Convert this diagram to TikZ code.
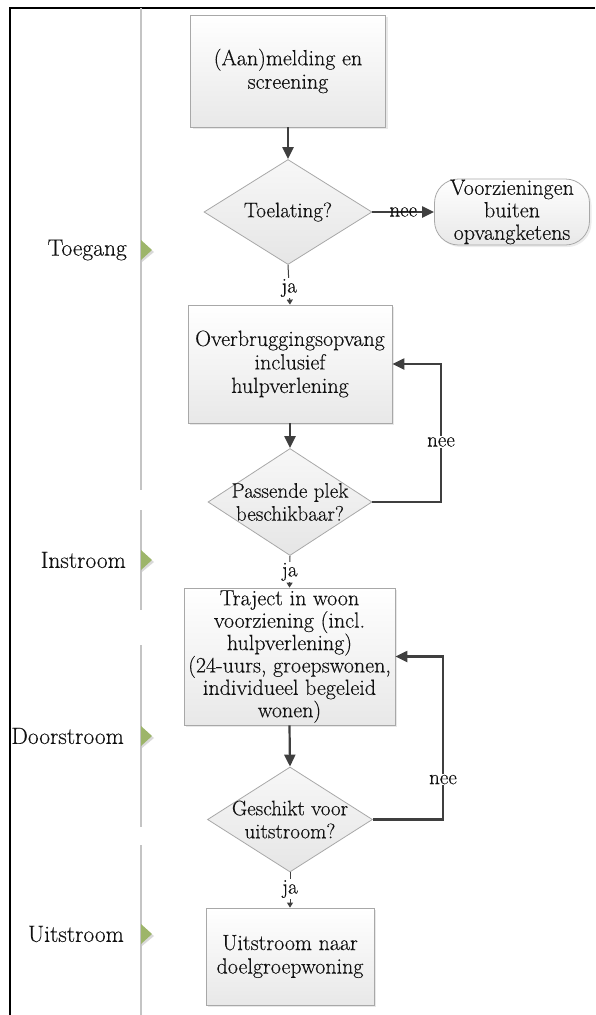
\documentclass[tikz,border=0pt]{standalone}
\usepackage{fontspec}
\setmainfont{Latin Modern Roman}[FakeBold=0.25]
\usetikzlibrary{shapes.geometric,arrows.meta,shadows}
\definecolor{txt}{HTML}{111111}
\definecolor{edgec}{HTML}{A8A8A8}
\definecolor{flowc}{HTML}{3F3F3F}
\definecolor{lanegreen}{HTML}{9DB56A}
\definecolor{sepc}{HTML}{C4C4C4}
\begin{document}
\begin{tikzpicture}[x=1pt,y=-1pt,
  base/.style={font=\fontsize{22}{23.5}\selectfont, text=txt, align=center},
  procbox/.style={base, rectangle, draw=edgec, line width=0.8pt, top color=white, bottom color=black!9,
    drop shadow={opacity=0.18, shadow xshift=2pt, shadow yshift=-2pt}, inner sep=0pt},
  decision/.style={diamond, draw=edgec, line width=0.8pt, top color=black!3, bottom color=black!10, inner sep=0pt},
  termbox/.style={base, rectangle, rounded corners=24pt, draw=edgec, line width=0.8pt, top color=white, bottom color=black!9,
    drop shadow={opacity=0.15, shadow xshift=2pt, shadow yshift=-2pt}, inner sep=0pt},
  dtext/.style={font=\fontsize{21}{23}\selectfont, text=txt, align=center, inner sep=0pt},
  lanelbl/.style={font=\fontsize{23.5}{26}\selectfont, text=txt, anchor=east, inner sep=0pt},
  flow/.style={draw=flowc, line width=2.2pt, -{Triangle[length=12pt,width=11pt]}},
  yesflow/.style={draw=flowc, line width=1pt, -{Triangle[length=5pt,width=6pt]}},
  lbl/.style={font=\fontsize{21}{23}\selectfont, text=txt, inner sep=1pt},
  lanetri/.style={fill=lanegreen}
]
\useasboundingbox (0,0) rectangle (595,1015);

% frame
\draw[black, line width=2pt] (9.5,1015) -- (9.5,7.5) -- (595,7.5);

% lane separators
\draw[sepc, line width=1.5pt] (141,8) -- (141,490);
\draw[sepc, line width=1.5pt] (141,510) -- (141,610);
\draw[sepc, line width=1.5pt] (141,645) -- (141,827);
\draw[sepc, line width=1.5pt] (141,845) -- (141,1015);

% lane labels and markers
\node[lanelbl] (lToegang) at (127,250) {Toegang};
\node[lanelbl] (lInstroom) at (126,560) {Instroom};
\node[lanelbl] (lDoorstroom) at (124,736) {Doorstroom};
\node[lanelbl] (lUitstroom) at (124,934) {Uitstroom};
\foreach \yy in {250,560,736,934}{
  \fill[black!15] (142,\yy-8) -- (154,\yy+2) -- (142,\yy+12) -- cycle;
  \fill[lanetri] (141,\yy-10) -- (152,\yy) -- (141,\yy+10) -- cycle;
}

% process nodes
\node[procbox, minimum width=195pt, minimum height=112pt] (b1) at (288,71) {(Aan)melding en\\screening};
\node[decision, minimum width=168pt, minimum height=105pt] (d1) at (288,212) {};
\node[dtext] (d1t) at (d1.center) {Toelating?};
\node[termbox, minimum width=155pt, minimum height=66pt, font=\fontsize{22}{22.5}\selectfont] (t1) at (512,212) {Voorzieningen\\buiten\\opvangketens};
\node[procbox, minimum width=204pt, minimum height=118pt] (b2) at (290,364) {Overbruggingsopvang\\inclusief\\hulpverlening};
\node[decision, minimum width=164pt, minimum height=107pt] (d2) at (290,502) {};
\node[dtext] (d2t) at (d2.center) {Passende plek\\beschikbaar?};
\node[procbox, minimum width=211pt, minimum height=137pt, font=\fontsize{22}{22.4}\selectfont] (b3) at (289.5,656.5) {Traject in woon\\voorziening (incl.\\hulpverlening)\\(24-uurs, groepswonen,\\individueel begeleid\\wonen)};
\node[decision, minimum width=165pt, minimum height=105pt] (d3) at (290,819.5) {};
\node[dtext] (d3t) at (d3.center) {Geschikt voor\\uitstroom?};
\node[procbox, minimum width=168pt, minimum height=97pt] (b4) at (290,956.5) {Uitstroom naar\\doelgroepwoning};

% loop corners
\coordinate (c1a) at (441,502);
\coordinate (c1b) at (441,364);
\coordinate (c2a) at (443,819.5);
\coordinate (c2b) at (443,656.5);

% connectors
\draw[flow] (b1.south) -- (d1.north);
\draw[flow] (d1.east) -- node[lbl]{nee} (t1.west);
\draw[yesflow] (d1.south) -- node[lbl, fill=white, pos=0.58]{ja} (b2.north);
\draw[flow] (b2.south) -- (d2.north);
\draw[flow] (d2.east) -- (c1a) -- node[lbl, fill=white, pos=0.435]{nee} (c1b) -- (b2.east);
\draw[yesflow] (d2.south) -- node[lbl, fill=white, pos=0.5]{ja} (b3.north);
\draw[flow] (b3.south) -- (d3.north);
\draw[flow] (d3.east) -- (c2a) -- node[lbl, fill=white, pos=0.245]{nee} (c2b) -- (b3.east);
\draw[yesflow] (d3.south) -- node[lbl, fill=white, pos=0.47]{ja} (b4.north);
\end{tikzpicture}
\end{document}
